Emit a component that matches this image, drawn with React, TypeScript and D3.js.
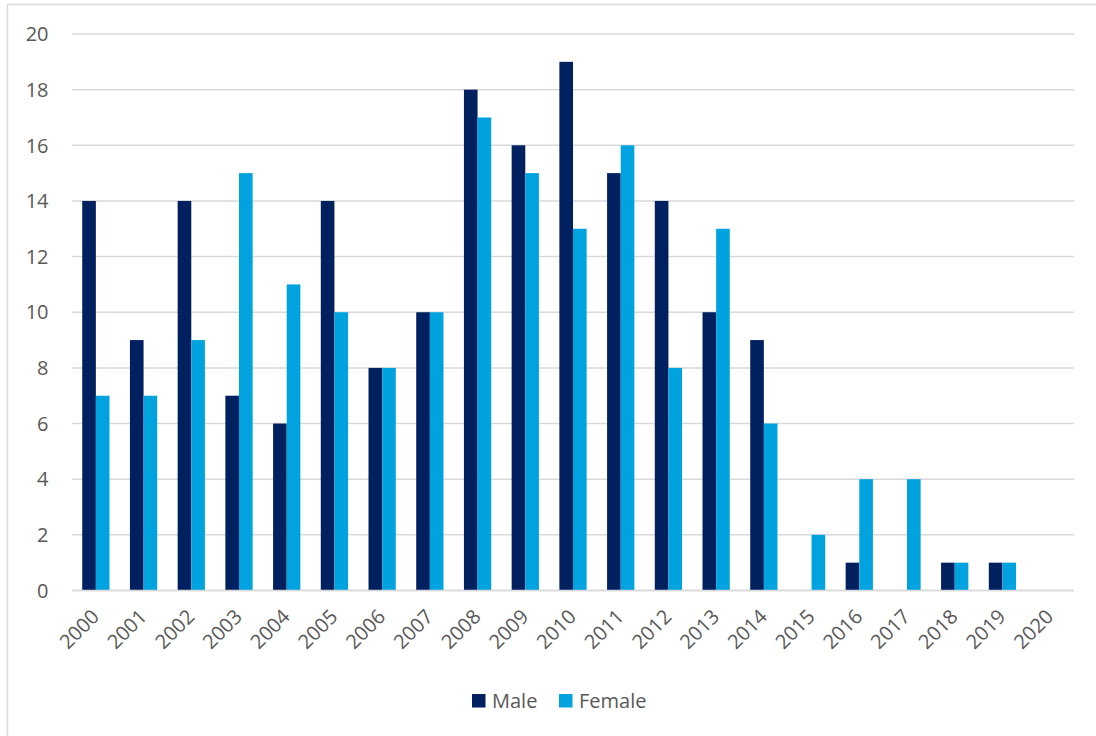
import React from "react";
import * as d3 from "d3";

const years = ["2000","2001","2002","2003","2004","2005","2006","2007","2008","2009","2010","2011","2012","2013","2014","2015","2016","2017","2018","2019","2020"];
const male = [14, 9, 14, 7, 6, 14, 8, 10, 18, 16, 19, 15, 14, 10, 9, 0, 1, 0, 1, 1, 0];
const female = [7, 7, 9, 15, 11, 10, 8, 10, 17, 15, 13, 16, 8, 13, 6, 2, 4, 4, 1, 1, 0];
const yTicks = [0, 2, 4, 6, 8, 10, 12, 14, 16, 18, 20];
const seriesNames = ["Male", "Female"];
const seriesColors = ["#002060", "#00A3E0"];

const W = 1096;
const H = 736;
const left = 72;
const right = 1074;
const top = 34;
const bottom = 590.5;
const font = "'Open Sans', 'Liberation Sans', sans-serif";

export default function App() {
  const x = d3.scaleBand<string>().domain(years).range([left, right]).paddingInner(0).paddingOuter(0);
  const y = d3.scaleLinear().domain([0, 20]).range([bottom, top]);
  const step = x.bandwidth();
  // gap width 150%: each bar is step / (2 + 1.5)
  const barW = step / 3.5;
  const groupOffset = (step - 2 * barW) / 2;
  const series = [male, female];

  return (
    <svg width={W} height={H} style={{ position: "absolute", left: 0, top: 0, background: "#fff" }}>
      <rect x={7.5} y={4.5} width={W + 10} height={H + 10} fill="#fff" stroke="#d9d9d9" strokeWidth={1.5} />
      {yTicks.map((t) => (
        <g key={t}>
          <line x1={left} x2={right} y1={y(t)} y2={y(t)} stroke="#d9d9d9" strokeWidth={1.5} />
          <text x={48.5} y={y(t)} dy="0.36em" textAnchor="end" fontFamily={font} fontSize={20} fill="#595959">
            {t}
          </text>
        </g>
      ))}
      {series.map((vals, si) =>
        vals.map((v, i) =>
          v > 0 ? (
            <rect
              key={`${si}-${i}`}
              x={(x(years[i]) as number) + groupOffset + si * barW}
              y={y(v)}
              width={barW}
              height={y(0) - y(v)}
              fill={seriesColors[si]}
            />
          ) : null
        )
      )}
      <line x1={left} x2={right} y1={y(0)} y2={y(0)} stroke="#d9d9d9" strokeWidth={1.5} />
      {years.map((yr) => {
        const cx = (x(yr) as number) + step / 2 - 0.5;
        const cy = 613;
        return (
          <text
            key={yr}
            transform={`translate(${cx},${cy}) rotate(-45)`}
            textAnchor="end"
            dy="0.35em"
            fontFamily={font}
            fontSize={20}
            fill="#595959"
          >
            {yr}
          </text>
        );
      })}
      {seriesNames.map((name, i) => {
        const lx = [472, 559][i];
        return (
          <g key={name}>
            <rect x={lx} y={694} width={13.5} height={13.5} fill={seriesColors[i]} />
            <text x={lx + 20} y={701} dy="0.35em" fontFamily={font} fontSize={20} fill="#595959">
              {name}
            </text>
          </g>
        );
      })}
    </svg>
  );
}
